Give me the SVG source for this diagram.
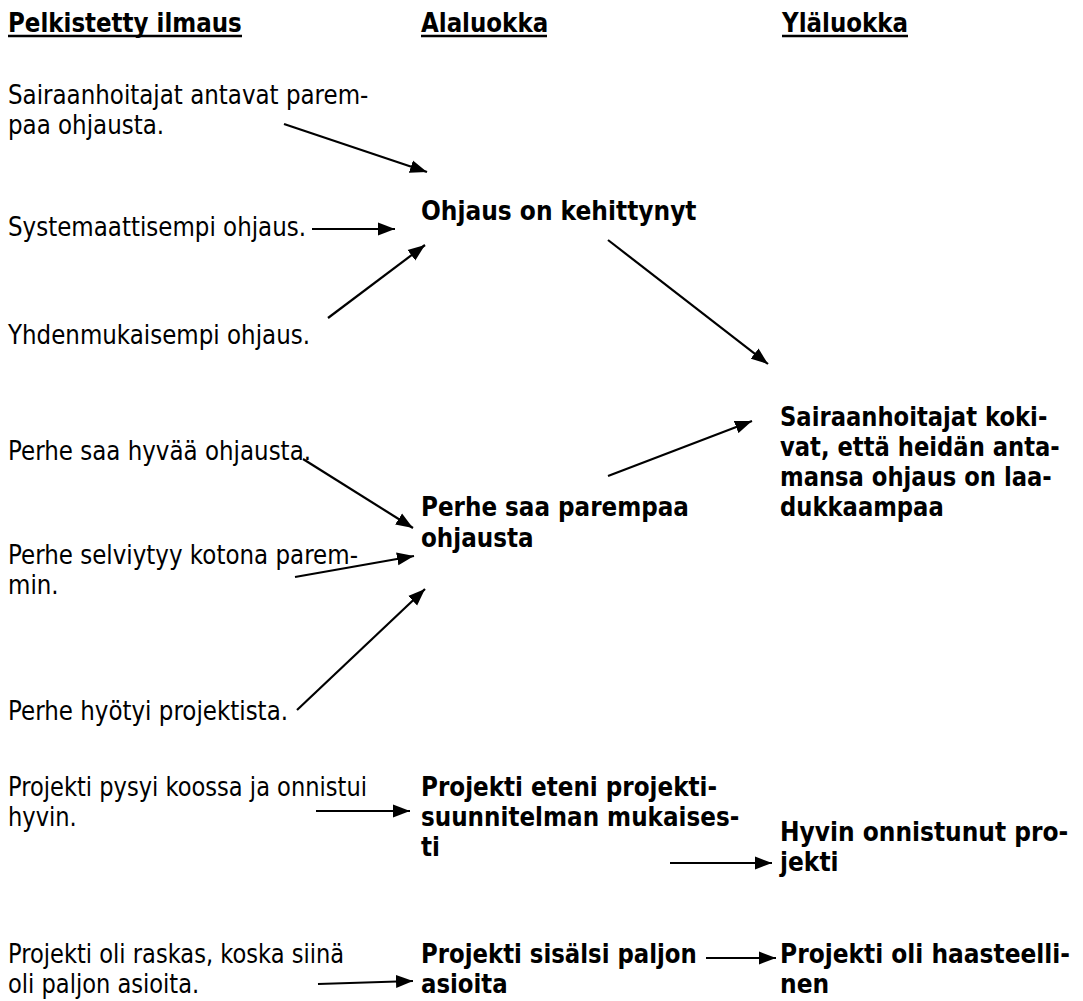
<svg xmlns="http://www.w3.org/2000/svg" width="1083" height="1001" viewBox="0 0 1083 1001">
<style>
text{font-family:"DejaVu Sans","Liberation Sans",sans-serif;fill:#000;font-size:26.4px}
.r{font-weight:normal}
.b{font-weight:bold}
.c line{stroke:#000;stroke-width:2.2;marker-end:url(#ah)}
.u{stroke:#000;stroke-width:2.5}
</style>
<defs>
<marker id="ah" markerUnits="userSpaceOnUse" markerWidth="18" markerHeight="14" refX="17" refY="7" orient="auto" viewBox="0 0 18 14">
<path d="M0,0.5 L17,7 L0,13.5 z" fill="#000"/>
</marker>
</defs>
<rect width="1083" height="1001" fill="#fff"/>
<g id="headers">
<text class="b" x="9.2" y="32" transform="scale(0.87 1)">Pelkistetty ilmaus</text>
<line class="u" x1="8" y1="36" x2="242" y2="36"/>
<text class="b" x="483.9" y="32" transform="scale(0.87 1)">Alaluokka</text>
<line class="u" x1="421" y1="36" x2="547" y2="36"/>
<text class="b" x="898.9" y="32" transform="scale(0.87 1)">Yläluokka</text>
<line class="u" x1="782" y1="36" x2="908" y2="36"/>
</g>
<g id="n1" class="r" transform="scale(0.871 1)"><text x="9.18" y="104">Sairaanhoitajat antavat parem-</text><text x="9.18" y="134">paa ohjausta.</text></g>
<g id="n2" transform="scale(0.871 1)"><text class="r" x="9.18" y="236">Systemaattisempi ohjaus.</text></g>
<g id="n3" transform="scale(0.871 1)"><text class="r" x="9.18" y="344">Yhdenmukaisempi ohjaus.</text></g>
<g id="n4" transform="scale(0.885 1)"><text class="b" x="475.7" y="220">Ohjaus on kehittynyt</text></g>
<g id="n5" transform="scale(0.86 1)"><text class="b" x="906.98" y="426">Sairaanhoitajat koki-</text><text class="b" x="906.98" y="456">vat, että heidän anta-</text><text class="b" x="906.98" y="486">mansa ohjaus on laa-</text><text class="b" x="906.98" y="516">dukkaampaa</text></g>
<g id="n6" transform="scale(0.871 1)"><text class="r" x="9.18" y="460">Perhe saa hyvää ohjausta.</text></g>
<g id="n7" transform="scale(0.871 1)"><text class="r" x="9.18" y="564">Perhe selviytyy kotona parem-</text><text class="r" x="9.18" y="594">min.</text></g>
<g id="n8" transform="scale(0.871 1)"><text class="r" x="9.18" y="720">Perhe hyötyi projektista.</text></g>
<g id="n9" transform="scale(0.875 1)"><text class="b" x="481.1" y="516">Perhe saa parempaa</text><text class="b" x="481.1" y="547">ohjausta</text></g>
<g id="n10" transform="scale(0.855 1)"><text class="r" x="9.36" y="796">Projekti pysyi koossa ja onnistui</text><text class="r" x="9.36" y="826">hyvin.</text></g>
<g id="n11" transform="scale(0.875 1)"><text class="b" x="481.1" y="796">Projekti eteni projekti-</text><text class="b" x="481.1" y="826">suunnitelman mukaises-</text><text class="b" x="481.1" y="856">ti</text></g>
<g id="n12" transform="scale(0.885 1)"><text class="b" x="881.4" y="841">Hyvin onnistunut pro-</text><text class="b" x="881.4" y="871">jekti</text></g>
<g id="n13" transform="scale(0.855 1)"><text class="r" x="9.36" y="963">Projekti oli raskas, koska siinä</text><text class="r" x="9.36" y="993">oli paljon asioita.</text></g>
<g id="n14" transform="scale(0.865 1)"><text class="b" x="486.7" y="963">Projekti sisälsi paljon</text><text class="b" x="486.7" y="993">asioita</text></g>
<g id="n15" transform="scale(0.885 1)"><text class="b" x="881.4" y="963">Projekti oli haasteelli-</text><text class="b" x="881.4" y="993">nen</text></g>
<g id="connectors" class="c">
<line x1="284" y1="124" x2="427" y2="172"/>
<line x1="312" y1="229" x2="395" y2="229"/>
<line x1="328" y1="318" x2="425" y2="245"/>
<line x1="608" y1="240" x2="768" y2="364"/>
<line x1="608" y1="476" x2="752" y2="421"/>
<line x1="303" y1="459" x2="413" y2="528"/>
<line x1="295" y1="577" x2="414" y2="556"/>
<line x1="297" y1="710" x2="425" y2="589"/>
<line x1="316" y1="811" x2="410" y2="811"/>
<line x1="670" y1="863" x2="772" y2="863"/>
<line x1="318" y1="984" x2="413" y2="981"/>
<line x1="706" y1="958" x2="776" y2="958"/>
</g>
</svg>
